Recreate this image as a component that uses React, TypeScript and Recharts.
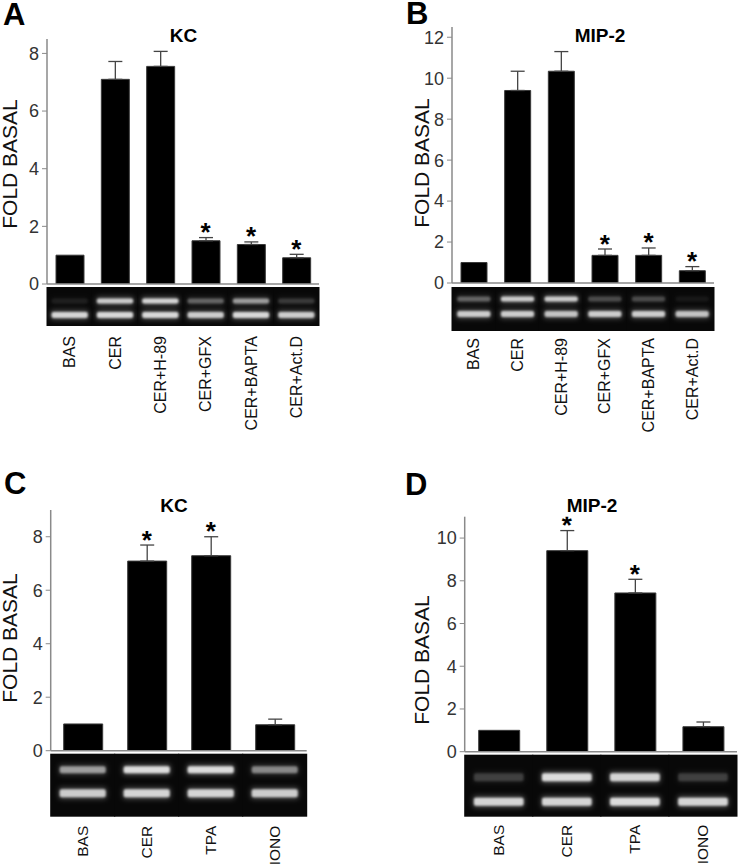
import React from 'react';
import { ComposedChart, Bar, XAxis, YAxis, ErrorBar, Line } from 'recharts';

const FONT = '"Liberation Sans", Arial, Helvetica, sans-serif';

// ---------- data ----------
const catsAB = ['BAS', 'CER', 'CER+H-89', 'CER+GFX', 'CER+BAPTA', 'CER+Act.D'];
const catsCD = ['BAS', 'CER', 'TPA', 'IONO'];

const kcA = [1.0, 7.1, 7.55, 1.5, 1.37, 0.91];
const kcAErr = [0, 0.62, 0.52, 0.11, 0.09, 0.12];
const kcASig = [false, false, false, true, true, true];
const kcAGelUpper = [0.08, 0.85, 0.9, 0.35, 0.6, 0.18];
const kcAGelLower = [0.9, 0.92, 0.92, 0.85, 0.92, 0.85];

const mipB = [1.0, 9.4, 10.34, 1.35, 1.35, 0.6];
const mipBErr = [0, 0.94, 0.96, 0.31, 0.36, 0.2];
const mipBSig = [false, false, false, true, true, true];
const mipBGelUpper = [0.35, 0.85, 0.85, 0.25, 0.25, 0.05];
const mipBGelLower = [0.85, 0.85, 0.8, 0.85, 0.85, 0.8];

const kcC = [1.0, 7.09, 7.29, 0.97];
const kcCErr = [0, 0.6, 0.71, 0.21];
const kcCSig = [false, true, true, false];
const kcCGelUpper = [0.6, 0.95, 0.95, 0.5];
const kcCGelLower = [0.85, 0.9, 0.9, 0.85];

const mipD = [1.0, 9.41, 7.43, 1.17];
const mipDErr = [0, 0.94, 0.64, 0.22];
const mipDSig = [false, true, true, false];
const mipDGelUpper = [0.2, 0.95, 0.9, 0.2];
const mipDGelLower = [0.9, 0.9, 0.95, 0.9];

const ticksKC = [0, 2, 4, 6, 8];
const ticksMipB = [0, 2, 4, 6, 8, 10, 12];
const ticksMipD = [0, 2, 4, 6, 8, 10];

type Row = {
  name: string;
  value: number;
  err: number[] | null;
  star: number | null;
  up: number;
  low: number;
};

function buildRows(
  cats: string[], vals: number[], errs: number[], sig: boolean[], up: number[], low: number[]
): Row[] {
  return cats.map((c, i) => ({
    name: c,
    value: vals[i],
    err: errs[i] > 0 ? [0, errs[i]] : null,
    star: sig[i] ? vals[i] + errs[i] : null,
    up: up[i],
    low: low[i],
  }));
}

// ---------- layout ----------
type Geo = {
  left: number; top: number; w: number; h: number;
  plotL: number; plotR: number; plotT: number; plotB: number;
  yMax: number; ticks: number[]; barSize: number;
  gelGap: number; gelH: number; upY: number; lowY: number; upH: number; lowH: number;
  bandFrac: number; labelGap: number; labelSize: number;
};

const geoA: Geo = {
  left: 0, top: 0, w: 369, h: 440,
  plotL: 47, plotR: 319, plotT: 39, plotB: 284,
  yMax: 8.5, ticks: ticksKC, barSize: 28,
  gelGap: 3, gelH: 39, upY: 14, lowY: 28, upH: 5, lowH: 6,
  bandFrac: 0.8, labelGap: 10, labelSize: 16,
};
const geoB: Geo = {
  left: 369, top: 0, w: 369, h: 440,
  plotL: 83, plotR: 345, plotT: 27, plotB: 283,
  yMax: 12.5, ticks: ticksMipB, barSize: 26,
  gelGap: 4, gelH: 44, upY: 12, lowY: 27, upH: 5, lowH: 6,
  bandFrac: 0.76, labelGap: 7, labelSize: 16,
};
const geoC: Geo = {
  left: 0, top: 440, w: 369, h: 424,
  plotL: 50.7, plotR: 306.7, plotT: 70, plotB: 310.7,
  yMax: 9, ticks: ticksKC, barSize: 39,
  gelGap: 3, gelH: 63, upY: 16, lowY: 39.5, upH: 7, lowH: 8,
  bandFrac: 0.72, labelGap: 9, labelSize: 15.5,
};
const geoD: Geo = {
  left: 369, top: 440, w: 369, h: 424,
  plotL: 95.7, plotR: 368, plotT: 76.7, plotB: 311.7,
  yMax: 11, ticks: ticksMipD, barSize: 41,
  gelGap: 3, gelH: 62, upY: 22.5, lowY: 47, upH: 8, lowH: 8,
  bandFrac: 0.73, labelGap: 8, labelSize: 15.5,
};

const AXIS_COLOR = '#8a8a8a';

function Band({ cx, cy, w, h, a }: { cx: number; cy: number; w: number; h: number; a: number }) {
  if (a <= 0.02) return null;
  return (
    <g>
      <rect x={cx - w / 2 - 1} y={cy - h / 2 - 2} width={w + 2} height={h + 4} rx={3}
        fill="#ffffff" fillOpacity={a * 0.3} filter="url(#gelGlow)" />
      <rect x={cx - w / 2} y={cy - h / 2} width={w} height={h} rx={2}
        fill="#e4e4e4" fillOpacity={a} filter="url(#gelBlur)" />
    </g>
  );
}

function makeGelTick(rows: Row[], g: Geo) {
  const laneW = (g.plotR - g.plotL) / rows.length;
  return (props: any) => {
    const { x, y, payload, index } = props;
    const row = rows[index] || rows.find((r) => r.name === payload.value);
    const top = y + g.gelGap;
    const bw = laneW * g.bandFrac;
    const ly = top + g.gelH + g.labelGap;
    return (
      <g>
        <rect x={x - laneW / 2 - 0.5} y={top} width={laneW + 1} height={g.gelH} fill="#080808" />
        {row && <Band cx={x} cy={top + g.upY} w={bw} h={g.upH} a={row.up} />}
        {row && <Band cx={x} cy={top + g.lowY} w={bw} h={g.lowH} a={row.low} />}
        <text
          x={x}
          y={ly}
          transform={`rotate(-90, ${x}, ${ly})`}
          textAnchor="end"
          dominantBaseline="central"
          fontSize={g.labelSize}
          fontFamily={FONT}
          fill="#111"
        >
          {payload.value}
        </text>
      </g>
    );
  };
}

const renderStar = (props: any) => {
  const { cx, cy, index, payload } = props;
  if (cy == null || payload == null || payload.star == null) return <g key={`s${index}`} />;
  return (
    <text key={`s${index}`} x={cx} y={cy + 3.5} textAnchor="middle" fontSize={26}
      fontWeight="bold" fontFamily={FONT} fill="#000">
      *
    </text>
  );
};

function Panel({ rows, g }: { rows: Row[]; g: Geo }) {
  const yW = 40;
  const xH = g.h - g.plotB;
  const margin = { top: g.plotT, right: g.w - g.plotR, bottom: 0, left: g.plotL - yW };
  return (
    <div style={{ position: 'absolute', left: g.left, top: g.top, width: g.w, height: g.h }}>
      <ComposedChart width={g.w} height={g.h} data={rows} margin={margin}>
        <XAxis
          dataKey="name"
          interval={0}
          tickLine={false}
          tickSize={0}
          tickMargin={0}
          height={xH}
          axisLine={{ stroke: AXIS_COLOR, strokeWidth: 1.5 }}
          tick={makeGelTick(rows, g)}
        />
        <YAxis
          type="number"
          domain={[0, g.yMax]}
          ticks={g.ticks}
          allowDataOverflow
          width={yW}
          tickSize={5}
          tickMargin={3}
          axisLine={{ stroke: AXIS_COLOR, strokeWidth: 1.5 }}
          tickLine={{ stroke: AXIS_COLOR }}
          tick={{ fontSize: 18, fill: '#333', fontFamily: FONT }}
        />
        <Bar dataKey="value" fill="#000" stroke="#3a3a3a" strokeWidth={1} barSize={g.barSize}
          isAnimationActive={false}>
          <ErrorBar dataKey="err" width={7} stroke="#444" strokeWidth={1.3} direction="y" />
        </Bar>
        <Line dataKey="star" stroke="none" dot={renderStar} activeDot={false}
          isAnimationActive={false} legendType="none" connectNulls={false} />
      </ComposedChart>
    </div>
  );
}

const rowsA = buildRows(catsAB, kcA, kcAErr, kcASig, kcAGelUpper, kcAGelLower);
const rowsB = buildRows(catsAB, mipB, mipBErr, mipBSig, mipBGelUpper, mipBGelLower);
const rowsC = buildRows(catsCD, kcC, kcCErr, kcCSig, kcCGelUpper, kcCGelLower);
const rowsD = buildRows(catsCD, mipD, mipDErr, mipDSig, mipDGelUpper, mipDGelLower);

export default function App() {
  return (
    <div style={{ position: 'absolute', left: 0, top: 0, width: 738, height: 864, background: '#fff', overflow: 'hidden' }}>
      <svg width={0} height={0} style={{ position: 'absolute' }}>
        <defs>
          <filter id="gelBlur" x="-20%" y="-150%" width="140%" height="400%">
            <feGaussianBlur stdDeviation="1.1" />
          </filter>
          <filter id="gelGlow" x="-30%" y="-200%" width="160%" height="500%">
            <feGaussianBlur stdDeviation="2.5" />
          </filter>
        </defs>
      </svg>
      <Panel rows={rowsA} g={geoA} />
      <Panel rows={rowsB} g={geoB} />
      <Panel rows={rowsC} g={geoC} />
      <Panel rows={rowsD} g={geoD} />
      <svg width={738} height={864} style={{ position: 'absolute', left: 0, top: 0, pointerEvents: 'none' }}
        fontFamily={FONT}>
        <text x={3} y={25} fontSize={31} fontWeight="bold">A</text>
        <text x={406} y={24} fontSize={31} fontWeight="bold">B</text>
        <text x={4} y={494} fontSize={31} fontWeight="bold">C</text>
        <text x={405} y={495} fontSize={31} fontWeight="bold">D</text>

        <text x={183.5} y={42} fontSize={19} fontWeight="bold" textAnchor="middle">KC</text>
        <text x={600} y={42} fontSize={19} fontWeight="bold" textAnchor="middle">MIP-2</text>
        <text x={174} y={512} fontSize={19} fontWeight="bold" textAnchor="middle">KC</text>
        <text x={592} y={512} fontSize={19} fontWeight="bold" textAnchor="middle">MIP-2</text>

        <text x={17} y={164} fontSize={21} textAnchor="middle" transform="rotate(-90, 17, 164)" fill="#111">FOLD BASAL</text>
        <text x={429} y={163} fontSize={21} textAnchor="middle" transform="rotate(-90, 429, 163)" fill="#111">FOLD BASAL</text>
        <text x={17} y={638} fontSize={21} textAnchor="middle" transform="rotate(-90, 17, 638)" fill="#111">FOLD BASAL</text>
        <text x={429} y={660} fontSize={21} textAnchor="middle" transform="rotate(-90, 429, 660)" fill="#111">FOLD BASAL</text>
      </svg>
    </div>
  );
}
